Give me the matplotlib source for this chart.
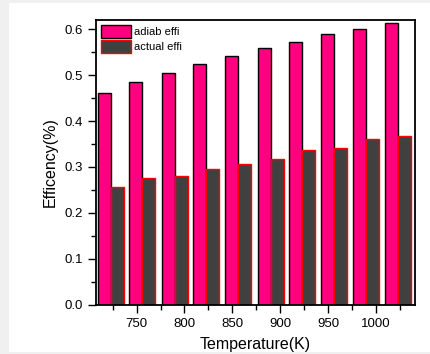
import matplotlib
matplotlib.use("Agg")
import matplotlib.pyplot as plt
from matplotlib.ticker import MultipleLocator, FormatStrFormatter
from matplotlib.patches import Rectangle
import numpy as np

plt.rcParams['font.family'] = ['Liberation Sans', 'DejaVu Sans']

temperature = [723, 756, 790, 823, 856, 890, 923, 956, 990, 1023]
adiab_effi = [0.462, 0.484, 0.505, 0.524, 0.542, 0.558, 0.573, 0.589, 0.601, 0.613]
actual_effi = [0.256, 0.275, 0.281, 0.296, 0.306, 0.317, 0.336, 0.342, 0.360, 0.367]
series_labels = ["adiab effi", "actual effi"]

fig = plt.figure(figsize=(4.30, 3.54), dpi=100, facecolor='#f0f0f0')
fig.add_artist(Rectangle((9/430, 2/354), 421/430, 349/354, transform=fig.transFigure,
                         facecolor='white', edgecolor='none', zorder=-10))
ax = fig.add_axes([96/430, 49.3/354, 319/430, 284.7/354])
ax.set_facecolor('white')

t = np.array(temperature, dtype=float)
w = 13.6
ax.bar(t - w/2, adiab_effi, width=w, color='#FF0080', edgecolor='black', linewidth=1.0,
       label=series_labels[0], zorder=2)
ax.bar(t + w/2, actual_effi, width=w, color='#404040', edgecolor='#FF0000', linewidth=1.0,
       label=series_labels[1], zorder=2)

ax.set_xlim(707.5, 1041)
ax.set_ylim(0, 0.62)
ax.xaxis.set_major_locator(MultipleLocator(50))
ax.xaxis.set_minor_locator(MultipleLocator(25))
ax.yaxis.set_major_locator(MultipleLocator(0.1))
ax.yaxis.set_minor_locator(MultipleLocator(0.05))
ax.yaxis.set_major_formatter(FormatStrFormatter('%.1f'))

ax.tick_params(axis='both', which='major', direction='out', length=6, width=1.0,
               labelsize=9.5, colors='black', pad=3.5)
ax.tick_params(axis='both', which='minor', direction='out', length=3.5, width=1.0)
ax.tick_params(top=False, right=False, which='both')
for s in ax.spines.values():
    s.set_linewidth(1.3)
    s.set_color('black')

ax.set_xlabel('Temperature(K)', fontsize=11.5, labelpad=5)
ax.set_ylabel('Efficency(%)', fontsize=11.5, labelpad=5)

leg = ax.legend(loc='upper left', frameon=False, fontsize=8, handlelength=2.7,
                handleheight=1.45, handletextpad=0.3, labelspacing=0.15,
                borderaxespad=0.25, borderpad=0.2)

fig.savefig('out.png', dpi=100, facecolor=fig.get_facecolor())
